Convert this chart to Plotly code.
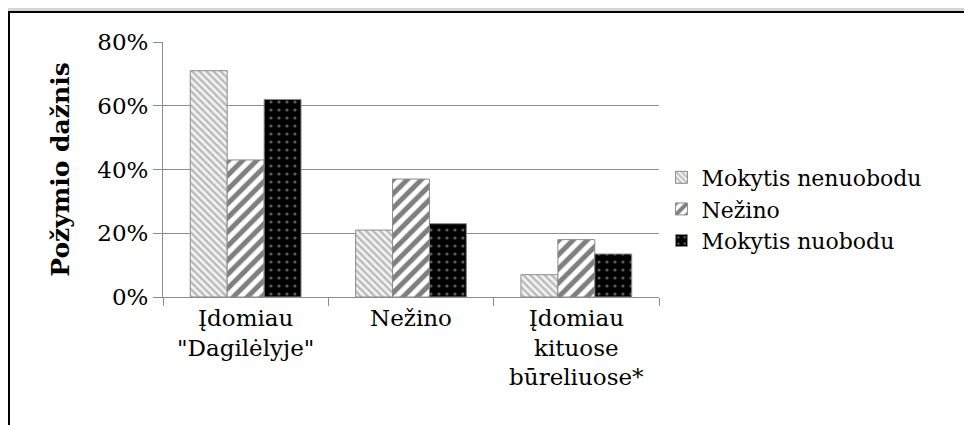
import plotly.graph_objects as go

categories = ['Įdomiau<br>"Dagilėlyje"', 'Nežino', 'Įdomiau<br>kituose<br>būreliuose*']
series_names = ['Mokytis nenuobodu', 'Nežino', 'Mokytis nuobodu']
nenuobodu = [71, 21, 7]
nezino = [43, 37, 18]
nuobodu = [62, 23, 13.5]
y_ticks = [0, 20, 40, 60, 80]
y_ticktext = ['0%', '20%', '40%', '60%', '80%']

FONT = 'DejaVu Serif'

# pattern look for each series (bg, fg, shape, size, solidity)
patterns = [
    dict(bgcolor='#f2f2f2', fgcolor='#7f7f7f', shape='\\', size=5, solidity=0.45),
    dict(bgcolor='white', fgcolor='black', shape='/', size=10, solidity=0.5),
    dict(bgcolor='black', fgcolor='#bfbfbf', shape='.', size=8, solidity=0.12),
]

fig = go.Figure()
for name, vals, pat in zip(series_names, [nenuobodu, nezino, nuobodu], patterns):
    fig.add_trace(go.Bar(
        x=categories, y=vals, name=name,
        marker=dict(color=pat['bgcolor'], pattern=pat,
                    line=dict(color='#8c8c8c', width=1)),
    ))

# page has an 8px body margin, so the figure is a bit smaller
fig.update_layout(
    width=964, height=417,
    margin=dict(l=155, r=313, t=34, b=128),
    paper_bgcolor='white', plot_bgcolor='white',
    barmode='group', bargap=0.33, bargroupgap=0,
    font=dict(family=FONT, size=23, color='black'),
    legend=dict(x=1.005, y=0.345, yanchor='middle', xanchor='left',
                font=dict(family=FONT, size=22), tracegroupgap=0,
                itemwidth=30),
    showlegend=True,
)

fig.update_yaxes(
    range=[0, 80], tickmode='array', tickvals=y_ticks, ticktext=y_ticktext,
    showgrid=True, gridcolor='#8c8c8c', gridwidth=1,
    showline=True, linecolor='#8c8c8c', linewidth=1,
    ticks='outside', ticklen=9, tickcolor='#8c8c8c',
    zeroline=False,
    tickfont=dict(family=FONT, size=23),
    title=dict(text='<b>Požymio dažnis</b>', font=dict(family=FONT, size=25), standoff=20),
)
fig.update_xaxes(
    showline=True, linecolor='#8c8c8c', linewidth=1,
    ticks='outside', tickson='boundaries', ticklen=8, tickcolor='#8c8c8c',
    tickfont=dict(family=FONT, size=23),
)

# outer chart frame with shadow above it
fig.add_shape(type='rect', xref='paper', yref='paper',
              x0=-0.33, x1=1.8, y0=1.118, y1=1.17,
              fillcolor='#d4d4d4', line=dict(width=0), layer='below')
fig.add_shape(type='rect', xref='paper', yref='paper',
              x0=-0.3105, x1=1.8, y0=-0.7, y1=1.1176,
              fillcolor='rgba(0,0,0,0)', line=dict(color='black', width=2))

fig.write_html("out.html")
